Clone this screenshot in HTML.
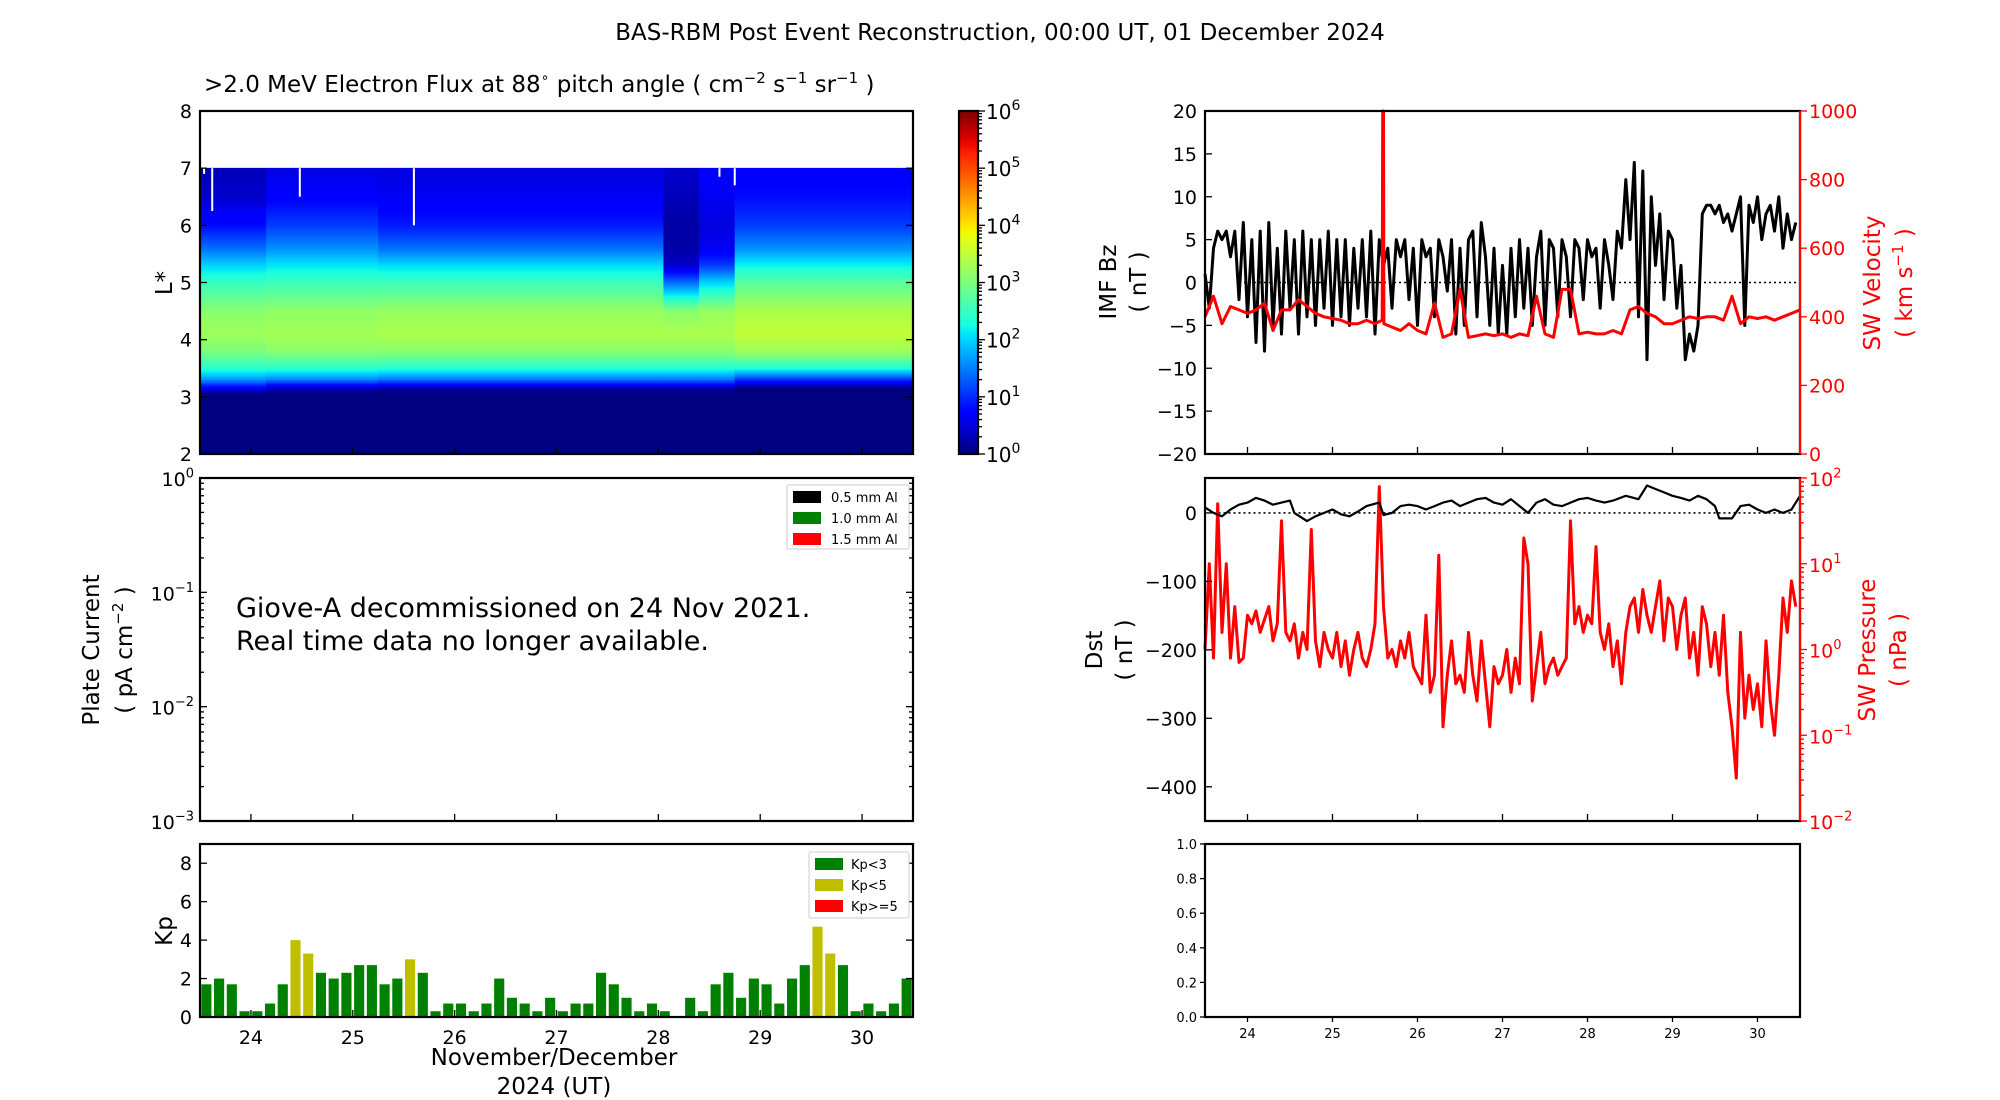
<!DOCTYPE html>
<html><head><meta charset="utf-8"><style>
html,body{margin:0;padding:0;background:#fff;}
svg{display:block;font-family:"DejaVu Sans","Liberation Sans",sans-serif;}
</style></head><body>
<svg id="fig" width="2000" height="1100" viewBox="0 0 2000 1100" xmlns="http://www.w3.org/2000/svg">
<text x="1000" y="40" font-size="23" text-anchor="middle">BAS-RBM Post Event Reconstruction, 00:00 UT, 01 December 2024</text>
<text x="204" y="92" font-size="23">&gt;2.0 MeV Electron Flux at 88<tspan font-size="14" dy="-10">∘</tspan><tspan dy="10">  pitch angle ( cm</tspan><tspan font-size="15" dy="-9">−2</tspan><tspan dy="9"> s</tspan><tspan font-size="15" dy="-9">−1</tspan><tspan dy="9"> sr</tspan><tspan font-size="15" dy="-9">−1</tspan><tspan dy="9">  )</tspan></text>
<text x="236" y="617" font-size="27">Giove-A decommissioned on 24 Nov 2021.</text>
<text x="236" y="650" font-size="27">Real time data no longer available.</text>
<text x="554" y="1065" font-size="23" text-anchor="middle">November/December</text>
<text x="554" y="1094" font-size="23" text-anchor="middle">2024 (UT)</text>
<text x="172" y="283" font-size="23" text-anchor="middle" transform="rotate(-90 172 283)">L*</text>
<text font-size="23" text-anchor="middle" transform="translate(99 650) rotate(-90)">Plate Current</text>
<text font-size="23" text-anchor="middle" transform="translate(132 650) rotate(-90)">( pA cm<tspan font-size="15" dy="-9">−2</tspan><tspan dy="9"> )</tspan></text>
<text x="172" y="931" font-size="23" text-anchor="middle" transform="rotate(-90 172 931)">Kp</text>
<text font-size="23" text-anchor="middle" transform="translate(1116 282) rotate(-90)">IMF Bz</text>
<text font-size="23" text-anchor="middle" transform="translate(1146 282) rotate(-90)">( nT )</text>
<text font-size="23" fill="#ff0000" text-anchor="middle" transform="translate(1880 283) rotate(-90)">SW Velocity</text>
<text font-size="23" fill="#ff0000" text-anchor="middle" transform="translate(1912 283) rotate(-90)">( km s<tspan font-size="15" dy="-9">−1</tspan><tspan dy="9"> )</tspan></text>
<text font-size="23" text-anchor="middle" transform="translate(1102 650) rotate(-90)">Dst</text>
<text font-size="23" text-anchor="middle" transform="translate(1132 650) rotate(-90)">( nT )</text>
<text font-size="23" fill="#ff0000" text-anchor="middle" transform="translate(1875 650) rotate(-90)">SW Pressure</text>
<text font-size="23" fill="#ff0000" text-anchor="middle" transform="translate(1906 650) rotate(-90)">( nPa )</text>
</svg>
<script>
// ---------- data ----------
const fluxL = [2,3.05,3.15,3.3,3.5,3.8,4.1,4.5,5.0,5.3,5.6,6.0,6.5,7.0];
const fluxT = [23.5,24.15,25.25,28.05,28.4,28.75,30.5];
const fluxA = [0,0,0.6,1.6,2.4,3.0,3.25,3.1,2.5,2.0,1.4,0.8,0.4,0.3];
const fluxB = [0,0,0.3,1.5,2.4,3.1,3.3,3.15,2.55,2.1,1.6,1.1,0.7,0.5];
const fluxC = [0,0,0.2,1.4,2.35,3.1,3.35,3.2,2.55,2.05,1.4,0.9,0.6,0.5];
const fluxD = [0,0,0.2,1.4,2.35,3.1,3.35,3.1,1.4,0.4,0.2,0.2,0.3,0.4];
const fluxE = [0,0,0.2,1.4,2.35,3.1,3.35,3.2,2.0,1.1,0.6,0.5,0.6,0.7];
const fluxF = [0,0,0,1.0,2.3,3.25,3.5,3.35,2.75,2.2,1.6,1.1,0.8,0.7];
const gapTimes = [23.54,23.62,24.48,25.6,28.6,28.75];
const gapBottoms = [6.9,6.25,6.5,6.0,6.85,6.7];

const kpValues = [1.7,2,1.7,0.3,0.3,0.7,1.7,4,3.3,2.3, 2,2.3,2.7,2.7,1.7,2,3,2.3,0.3,0.7,
 0.7,0.3,0.7,2,1,0.7,0.3,1,0.3,0.7, 0.7,2.3,1.7,1,0.3,0.7,0.3,0,1,0.3,
 1.7,2.3,1,2,1.7,0.7,2,2.7,4.7,3.3, 2.7,0.3,0.7,0.3,0.7,2];

const bzValues = [1,-3,4,6,5,6,3,6,-2,7, -4,5,-7,6,-8,7,-5,4,-6,6, -3,5,-6,6,-4,5,-5,5,-3,6,
 -5,5,-4,5,-5,4,-3,5,-4,6, -6,5,2,4,-3,5,3,5,-2,4, -5,5,3,4,-4,5,3,-1,5,-6,
 4,-5,5,6,-4,7,3,-5,4,-6, 2,-6,4,-4,5,-3,4,-5,3,6, -5,5,4,-4,5,3,-4,5,4,-2,
 5,3,4,-3,5,2,-2,6,4,12, 5,14,-4,13,-9,10,2,8,-2,6, 5,-3,2,-9,-6,-8,-5,8,9,9,
 8,9,7,8,6,8,10,-5,9,7, 10,5,8,9,6,10,4,8,5,7];

const velTimes = [23.5,23.6,23.7,23.8,23.9,24.0,24.1,24.2,24.3,24.4,24.5,24.6,24.7,24.8,24.9,25.0,25.1,25.2,25.3,25.4,25.5,25.585,25.59,25.6,25.605,25.7,25.8,25.9,
 26.0,26.1,26.2,26.3,26.4,26.5,26.6,26.7,26.8,26.9,27.0,27.1,27.2,27.3,27.4,27.5,27.6,27.7,27.8,27.9,28.0,28.1,28.2,28.3,28.4,28.5,28.6,28.7,28.8,28.9,
 29.0,29.1,29.2,29.3,29.4,29.5,29.6,29.7,29.8,29.9,30.0,30.1,30.2,30.3,30.4,30.5];
const velValues = [400,460,380,430,420,410,420,440,360,420,420,450,430,410,400,395,390,380,380,390,380,390,1000,1000,380,370,360,380,
 360,350,440,340,350,480,340,345,350,345,350,340,350,345,460,350,340,480,480,350,355,350,350,360,350,420,430,410,400,380,
 380,390,400,395,400,400,390,460,380,400,395,400,390,400,410,420];

const dstTimes = [23.5,23.6,23.7,23.8,23.9,24.0,24.1,24.2,24.3,24.4,24.5,24.55,24.7,24.8,24.9,25.0,25.1,25.2,25.3,25.4,25.55,25.6,25.7,25.8,25.9,
 26.0,26.1,26.2,26.3,26.4,26.5,26.6,26.7,26.8,26.9,27.0,27.1,27.2,27.3,27.4,27.5,27.6,27.7,27.8,27.9,28.0,28.1,28.2,28.3,28.45,28.6,
 28.7,28.8,28.9,29.0,29.1,29.2,29.3,29.4,29.5,29.55,29.7,29.8,29.9,30.0,30.1,30.2,30.3,30.4,30.5];
const dstValues = [8,0,-5,5,12,15,22,18,12,15,18,0,-12,-5,0,5,-2,-5,2,10,15,-3,0,10,12,
 10,5,10,15,18,10,15,20,22,15,12,20,10,0,15,20,12,10,15,20,22,18,15,18,25,20,
 40,35,30,25,22,18,25,20,10,-8,-8,10,12,5,0,5,0,5,25];

const presLog = [0.0,1.0,-0.1,1.7,0.2,1.0,-0.1,0.5,-0.15,-0.1, 0.4,0.3,0.45,0.2,0.35,0.5,0.1,0.3,1.5,0.2,
 0.1,0.3,-0.1,0.2,0.0,1.4,0.1,-0.2,0.2,0.0, -0.1,0.2,-0.2,0.1,-0.3,0.0,0.2,-0.1,-0.2,0.0,
 0.3,1.9,0.5,-0.1,0.0,-0.2,0.1,-0.1,0.2,-0.2, -0.3,-0.4,0.4,-0.5,-0.3,1.1,-0.9,-0.3,0.1,-0.4,
 -0.3,-0.5,0.2,-0.3,-0.6,0.1,-0.4,-0.9,-0.2,-0.4, -0.3,0.0,-0.5,-0.1,-0.4,1.3,1.0,-0.6,-0.2,0.2,
 -0.4,-0.2,-0.1,-0.3,-0.2,-0.1,1.5,0.3,0.5,0.2, 0.4,0.3,1.2,0.2,0.0,0.3,-0.2,0.1,-0.4,0.2,
 0.5,0.6,0.2,0.7,0.4,0.2,0.5,0.8,0.1,0.6, 0.5,0.0,0.4,0.6,-0.1,0.2,-0.3,0.5,0.3,-0.2,
 0.2,-0.3,0.4,-0.5,-0.9,-1.5,0.2,-0.8,-0.3,-0.7, -0.4,-0.9,0.1,-0.6,-1.0,-0.3,0.6,0.2,0.8,0.5];

const dayTicks = [24,25,26,27,28,29,30];
const lTicks = [2,3,4,5,6,7,8];
const kpTicks = [0,2,4,6,8];
const bzTicks = [-20,-15,-10,-5,0,5,10,15,20];
const velTicks = [0,200,400,600,800,1000];
const dstTicks = [-400,-300,-200,-100,0];
const blankTicks = ['0.0','0.2','0.4','0.6','0.8','1.0'];

// ---------- helpers ----------
const NS = 'http://www.w3.org/2000/svg';
const svg = document.getElementById('fig');
function mk(tag, attrs, name, parent){
  const el = document.createElementNS(NS, tag);
  for (const k in attrs) el.setAttribute(k, attrs[k]);
  
  
  (parent || svg).appendChild(el);
  return el;
}
function txt(x, y, s, size, anchor, fill, name){
  const t = mk('text', {x:x, y:y, 'font-size':size, 'text-anchor':anchor, fill:fill||'#000'}, name);
  t.textContent = s;
  return t;
}
function supTxt(x, y, base, exp, size, anchor, fill, name){
  const t = mk('text', {x:x, y:y, 'font-size':size, 'text-anchor':anchor, fill:fill||'#000'}, name);
  const a = document.createElementNS(NS,'tspan'); a.textContent = base; t.appendChild(a);
  const b = document.createElementNS(NS,'tspan'); b.textContent = exp;
  b.setAttribute('font-size', Math.round(size*0.7)); b.setAttribute('dy', -size*0.45); t.appendChild(b);
  return t;
}
function interp(segs, v){
  for (let i=0;i<segs.length-1;i++){
    if (v<=segs[i+1][0]){ const f=(v-segs[i][0])/(segs[i+1][0]-segs[i][0]); return segs[i][1]+(segs[i+1][1]-segs[i][1])*f; }
  }
  return segs[segs.length-1][1];
}
const JR=[[0,0],[0.35,0],[0.66,1],[0.89,1],[1,0.5]];
const JG=[[0,0],[0.125,0],[0.375,1],[0.64,1],[0.91,0],[1,0]];
const JB=[[0,0.5],[0.11,1],[0.34,1],[0.65,0],[1,0]];
function jet(v){
  v = Math.max(0, Math.min(1, v));
  return 'rgb('+Math.round(255*interp(JR,v))+','+Math.round(255*interp(JG,v))+','+Math.round(255*interp(JB,v))+')';
}
function poly(pts, stroke, w, name, extra){
  const a = Object.assign({points: pts.map(p=>p[0].toFixed(1)+','+p[1].toFixed(1)).join(' '), fill:'none', stroke:stroke, 'stroke-width':w, 'stroke-linejoin':'round'}, extra||{});
  return mk('polyline', a, name);
}
function tick(x1,y1,x2,y2,color,name){ mk('line',{x1:x1,y1:y1,x2:x2,y2:y2,stroke:color||'#000','stroke-width':1.3}, name); }

// ---------- panel geometry ----------
const L = {x0:200, x1:913};
const R = {x0:1205, x1:1800};
const rows = {top:[111,454], mid:[478,821], bot:[844,1017]};
const xL = t => L.x0 + (t-23.5)/7*(L.x1-L.x0);
const xR = t => R.x0 + (t-23.5)/7*(R.x1-R.x0);

// ---------- flux heatmap ----------
const yL = l => rows.top[1] - (l-2)/6*(rows.top[1]-rows.top[0]);
const profiles = [fluxA,fluxB,fluxC,fluxD,fluxE,fluxF];
const heat = mk('g', {}, 'flux-heatmap');
for (let c=0;c<profiles.length;c++){
  const p = profiles[c];
  for (let l=2; l<7-1e-9; l+=0.025){
    const lm = l+0.0125;
    let k=0; while (k<fluxL.length-2 && fluxL[k+1]<lm) k++;
    const f = (lm-fluxL[k])/(fluxL[k+1]-fluxL[k]);
    const v = p[k]+(p[k+1]-p[k])*Math.max(0,Math.min(1,f));
    mk('rect', {x:xL(fluxT[c]).toFixed(2), y:(yL(l+0.025)-0.3).toFixed(2), width:(xL(fluxT[c+1])-xL(fluxT[c])+0.5).toFixed(2), height:(yL(l)-yL(l+0.025)+0.6).toFixed(2), fill:jet(v/6)}, 'flux-cell', heat);
  }
}
for (let i=0;i<gapTimes.length;i++){
  mk('line', {x1:xL(gapTimes[i]), y1:yL(7), x2:xL(gapTimes[i]), y2:yL(gapBottoms[i]), stroke:'#fff','stroke-width':2}, 'flux-data-gap');
}

// ---------- frames ----------
function frame(x0,x1,r,name){ mk('rect',{x:x0,y:r[0],width:x1-x0,height:r[1]-r[0],fill:'none',stroke:'#000','stroke-width':2.2}, name); }

lTicks.forEach(l=>{ const y=yL(l); tick(L.x0,y,L.x0+7,y,'#000','lstar-tick'); tick(L.x1,y,L.x1-7,y,'#000','lstar-tick-right'); txt(L.x0-8,y+7,String(l),19,'end','#000','lstar-tick-label'); });
dayTicks.forEach(d=>{ tick(xL(d),rows.top[1],xL(d),rows.top[1]-7,'#000','flux-day-tick'); tick(xL(d),rows.mid[1],xL(d),rows.mid[1]-7,'#000','plate-day-tick'); });
frame(L.x0,L.x1,rows.top,'flux-panel-frame');

// colorbar
const cb = {x0:959,x1:978};
const defs = mk('defs',{},'defs');
const grad = mk('linearGradient',{id:'jetg',x1:0,y1:1,x2:0,y2:0},'colorbar-gradient',defs);
for (let i=0;i<=40;i++){ mk('stop',{offset:(i/40).toFixed(3),'stop-color':jet(i/40)},'gradient-stop',grad); }
mk('rect',{x:cb.x0,y:rows.top[0],width:cb.x1-cb.x0,height:rows.top[1]-rows.top[0],fill:'url(#jetg)',stroke:'#000','stroke-width':2.2},'colorbar');
const yCb = lv => rows.top[1] - lv/6*(rows.top[1]-rows.top[0]);
for (let d=0; d<=6; d++){
  tick(cb.x1,yCb(d),cb.x1+7,yCb(d),'#000','colorbar-tick');
  supTxt(cb.x1+8,yCb(d)+8,'10',String(d),20,'start','#000','colorbar-tick-label');
  if (d<6) for (let m=2;m<10;m++){ const y=yCb(d+Math.log10(m)); tick(cb.x1,y,cb.x1+4,y,'#000','colorbar-minor-tick'); }
}

// plate current
const yP = e => rows.mid[0] + (-e)/3*(rows.mid[1]-rows.mid[0]);
for (let e=0;e>=-3;e--){
  tick(L.x0,yP(e),L.x0+7,yP(e),'#000','plate-tick'); tick(L.x1,yP(e),L.x1-7,yP(e),'#000','plate-tick-right');
  supTxt(L.x0-6,yP(e)+8,'10',e===0?'0':'−'+(-e),19,'end','#000','plate-tick-label');
  if (e>-3) for (let m=2;m<10;m++){ const y=yP(e-1+Math.log10(m)); tick(L.x0,y,L.x0+4,y,'#000','plate-minor-tick'); tick(L.x1,y,L.x1-4,y,'#000','plate-minor-tick-right'); }
}
frame(L.x0,L.x1,rows.mid,'plate-panel-frame');
const pl = mk('g',{},'plate-legend');
mk('rect',{x:787,y:485,width:122,height:64,fill:'#fff',stroke:'#ccc','stroke-width':1,rx:2},'plate-legend-box',pl);
[['#000','0.5 mm Al'],['#008000','1.0 mm Al'],['#ff0000','1.5 mm Al']].forEach((e,i)=>{
  mk('rect',{x:793,y:491+i*21,width:28,height:12,fill:e[0]},'plate-legend-swatch',pl);
  const t = mk('text',{x:831,y:502+i*21,'font-size':13},'plate-legend-label',pl); t.textContent=e[1];
});

// Kp
const yK = v => rows.bot[1] - v/9*(rows.bot[1]-rows.bot[0]);
kpValues.forEach((v,i)=>{
  const t0 = 23.5 + i*0.125;
  const col = v>=5 ? '#ff0000' : (v>=3 ? '#bfbf00' : '#008000');
  mk('rect',{x:(xL(t0)+1.3).toFixed(2), y:yK(v).toFixed(2), width:(xL(t0+0.125)-xL(t0)-2.6).toFixed(2), height:(yK(0)-yK(v)).toFixed(2), fill:col}, 'kp-bar');
});
kpTicks.forEach(k=>{ tick(L.x0,yK(k),L.x0+7,yK(k),'#000','kp-tick'); tick(L.x1,yK(k),L.x1-7,yK(k),'#000','kp-tick-right'); txt(L.x0-8,yK(k)+7,String(k),19,'end','#000','kp-tick-label'); });
dayTicks.forEach(d=>{ tick(xL(d),rows.bot[1],xL(d),rows.bot[1]-7,'#000','kp-day-tick'); txt(xL(d),rows.bot[1]+27,String(d),19,'middle','#000','kp-day-label'); });
frame(L.x0,L.x1,rows.bot,'kp-panel-frame');
const kl = mk('g',{},'kp-legend');
mk('rect',{x:809,y:852,width:100,height:66,fill:'#fff',stroke:'#ccc','stroke-width':1,rx:2},'kp-legend-box',kl);
[['#008000','Kp<3'],['#bfbf00','Kp<5'],['#ff0000','Kp>=5']].forEach((e,i)=>{
  mk('rect',{x:815,y:858+i*21,width:28,height:12,fill:e[0]},'kp-legend-swatch',kl);
  const t = mk('text',{x:851,y:869+i*21,'font-size':13},'kp-legend-label',kl); t.textContent=e[1];
});

// IMF Bz & velocity
const yB = v => rows.top[0] + (20-v)/40*(rows.top[1]-rows.top[0]);
const yV = v => rows.top[1] - v/1000*(rows.top[1]-rows.top[0]);
mk('line',{x1:xR(23.9),y1:yB(0),x2:xR(30.5),y2:yB(0),stroke:'#000','stroke-width':1.6,'stroke-dasharray':'2,3'},'bz-zero-line');
poly(bzValues.map((v,i)=>[xR(23.5+i*0.05), yB(v)]), '#000', 3, 'bz-line');
poly(velTimes.map((t,i)=>[xR(t), yV(velValues[i])]), '#ff0000', 3, 'sw-velocity-line');
bzTicks.forEach(v=>{ tick(R.x0,yB(v),R.x0+7,yB(v),'#000','bz-tick'); txt(R.x0-8,yB(v)+7,v<0?'−'+(-v):String(v),19,'end','#000','bz-tick-label'); });
velTicks.forEach(v=>{ tick(R.x1,yV(v),R.x1+7,yV(v),'#ff0000','velocity-tick'); txt(R.x1+9,yV(v)+7,String(v),19,'start','#ff0000','velocity-tick-label'); });
dayTicks.forEach(d=>{ tick(xR(d),rows.top[1],xR(d),rows.top[1]-7,'#000','bz-day-tick'); tick(xR(d),rows.mid[1],xR(d),rows.mid[1]-7,'#000','dst-day-tick'); });
frame(R.x0,R.x1,rows.top,'imf-panel-frame');
mk('line',{x1:R.x1,y1:rows.top[0],x2:R.x1,y2:rows.top[1],stroke:'#ff0000','stroke-width':2.2},'velocity-axis-spine');

// Dst & pressure
const yD = v => rows.mid[0] + (51-v)/501*(rows.mid[1]-rows.mid[0]);
const yPr = lg => rows.mid[1] - (lg+2)/4*(rows.mid[1]-rows.mid[0]);
mk('line',{x1:xR(23.6),y1:yD(0),x2:xR(30.5),y2:yD(0),stroke:'#000','stroke-width':1.6,'stroke-dasharray':'2,3'},'dst-zero-line');
poly(presLog.map((v,i)=>[xR(23.5+i*0.05), yPr(v)]), '#ff0000', 3, 'sw-pressure-line');
poly(dstTimes.map((t,i)=>[xR(t), yD(dstValues[i])]), '#000', 2.2, 'dst-line');
dstTicks.forEach(v=>{ tick(R.x0,yD(v),R.x0+7,yD(v),'#000','dst-tick'); txt(R.x0-8,yD(v)+7,v<0?'−'+(-v):String(v),19,'end','#000','dst-tick-label'); });
for (let e=-2;e<=2;e++){
  tick(R.x1,yPr(e),R.x1+7,yPr(e),'#ff0000','pressure-tick');
  supTxt(R.x1+9,yPr(e)+8,'10',e<0?'−'+(-e):String(e),19,'start','#ff0000','pressure-tick-label');
  if (e<2) for (let m=2;m<10;m++){ const y=yPr(e+Math.log10(m)); tick(R.x1,y,R.x1+4,y,'#ff0000','pressure-minor-tick'); }
}
frame(R.x0,R.x1,rows.mid,'dst-panel-frame');
mk('line',{x1:R.x1,y1:rows.mid[0],x2:R.x1,y2:rows.mid[1],stroke:'#ff0000','stroke-width':2.2},'pressure-axis-spine');

// blank bottom-right panel
const yE = v => rows.bot[1] - v*(rows.bot[1]-rows.bot[0]);
blankTicks.forEach(s=>{ const v=parseFloat(s); tick(R.x0,yE(v),R.x0-5,yE(v),'#000','blank-tick'); txt(R.x0-8,yE(v)+5,s,13,'end','#000','blank-tick-label'); });
dayTicks.forEach(d=>{ tick(xR(d),rows.bot[1],xR(d),rows.bot[1]+5,'#000','blank-day-tick'); txt(xR(d),rows.bot[1]+21,String(d),13,'middle','#000','blank-day-label'); });
frame(R.x0,R.x1,rows.bot,'blank-panel-frame');
</script>
</body></html>
